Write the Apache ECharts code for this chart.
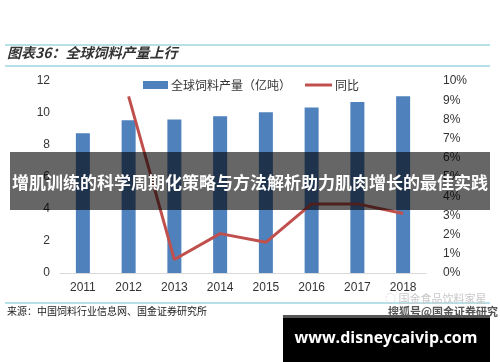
<!DOCTYPE html>
<html><head><meta charset="utf-8">
<script src="https://cdn.jsdelivr.net/npm/echarts@6/dist/echarts.min.js"></script>
<style>html,body{margin:0;padding:0;background:#fff}#c{width:500px;height:362px}</style>
</head><body><div id="c"></div>
<script>
const years = ['2011','2012','2013','2014','2015','2016','2017','2018'];
const feedOutput = [8.73, 9.55, 9.6, 9.8, 10.05, 10.35, 10.68, 11.05];
const yoyPct = [null, 9.2, 0.7, 2.05, 1.6, 3.6, 3.6, 3.1];
const leftTicks = {min:0, max:12, interval:2};
const rightTicks = {min:0, max:10, interval:1};

const cjk = '"Noto Sans CJK SC", sans-serif';
const chart = echarts.init(document.getElementById('c'), null, {renderer:'canvas'});
chart.setOption({
  animation:false,
  backgroundColor:'#fff',
  grid:{left:60, right:74, top:81, bottom:89},
  legend:[
    {data:[{name:'全球饲料产量（亿吨）', icon:'rect'}], left:143, top:79, padding:0, itemWidth:25, itemHeight:8, itemGap:4,
     textStyle:{fontFamily:cjk, fontSize:12, color:'#333', padding:[0,0,0,-2]}},
    {data:[{name:'同比', icon:'rect'}], left:305, top:79, padding:0, itemWidth:27, itemHeight:3, itemGap:4,
     textStyle:{fontFamily:cjk, fontSize:12, color:'#333', padding:[0,0,0,-2]}}
  ],
  xAxis:{type:'category', data:years,
    axisLine:{lineStyle:{color:'#d9d9d9', width:1}}, axisTick:{show:false},
    axisLabel:{color:'#333', fontSize:12, fontFamily:'"Liberation Sans", Arial, sans-serif', margin:9}},
  yAxis:[
    {type:'value', min:leftTicks.min, max:leftTicks.max, interval:leftTicks.interval,
     splitLine:{show:false}, axisLine:{show:false}, axisTick:{show:false},
     axisLabel:{color:'#333', fontSize:12, fontFamily:'"Liberation Sans", Arial, sans-serif', margin:10}},
    {type:'value', min:rightTicks.min, max:rightTicks.max, interval:rightTicks.interval, position:'right',
     splitLine:{show:false}, axisLine:{show:false}, axisTick:{show:false},
     axisLabel:{color:'#333', fontSize:12, fontFamily:'"Liberation Sans", Arial, sans-serif', margin:17, formatter:'{value}%'}}
  ],
  series:[
    {name:'全球饲料产量（亿吨）', type:'bar', data:feedOutput, barWidth:14, itemStyle:{color:'#4f81bd'}},
    {name:'同比', type:'line', yAxisIndex:1, data:yoyPct, showSymbol:false, symbol:'none',
     lineStyle:{color:'#c0504d', width:3}, itemStyle:{color:'#c0504d'}}
  ],
  graphic:[
    {type:'line', shape:{x1:5,y1:45,x2:490,y2:45}, style:{stroke:'#6fc3d3', lineWidth:1}},
    {type:'line', shape:{x1:5,y1:66,x2:490,y2:66}, style:{stroke:'#6fc3d3', lineWidth:1}},
    {type:'text', left:7, top:46, style:{text:'图表36：全球饲料产量上行', fill:'#333', font:'italic bold 14px '+cjk}},
    {type:'line', shape:{x1:5,y1:303,x2:490,y2:303}, style:{stroke:'#6fc3d3', lineWidth:1}},
    {type:'text', left:7, top:306, style:{text:'来源：中国饲料行业信息网、国金证券研究所', fill:'#222', font:'10px '+cjk}},
    {type:'text', left:385, top:293, style:{text:'◌ 国金食品饮料家星', fill:'#c8c8c8', font:'11px '+cjk}},
    {type:'text', left:388, top:306, style:{text:'搜狐号@国金证券研究', fill:'#555', font:'bold 11px '+cjk}},
    {type:'rect', z:100, shape:{x:10,y:152,width:480,height:58}, style:{fill:'rgba(0,0,0,0.6)'}},
    {type:'text', z:101, x:250, y:183, style:{text:'增肌训练的科学周期化策略与方法解析助力肌肉增长的最佳实践', fill:'#fff', font:'bold 17px '+cjk, align:'center', verticalAlign:'middle'}},
    {type:'rect', z:100, shape:{x:283,y:315,width:207,height:47}, style:{fill:'#000'}},
    {type:'rect', z:100, shape:{x:283,y:315,width:207,height:3}, style:{fill:'#555'}},
    {type:'text', z:101, x:386, y:338, style:{text:'www.disneycaivip.com', fill:'#fff', font:'bold 16px "Open Sans", sans-serif', align:'center', verticalAlign:'middle'}}
  ]
});
</script></body></html>
